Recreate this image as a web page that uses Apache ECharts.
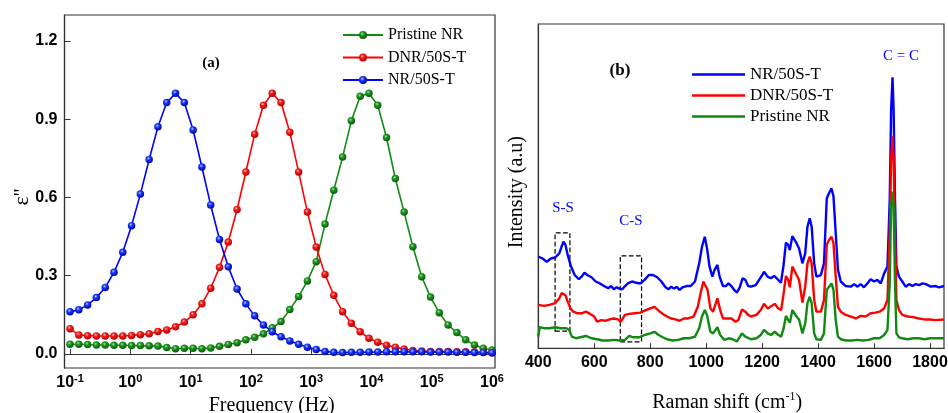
<!DOCTYPE html>
<html>
<head>
<meta charset="utf-8">
<script src="https://cdn.jsdelivr.net/npm/echarts@6/dist/echarts.min.js"></script>
<style>
html, body { margin: 0; padding: 0; background: #fff; }
#main { width: 948px; height: 413px; }
</style>
</head>
<body>
<div id="main"></div>
<script>
// panel (a): dielectric loss vs frequency
var freqs = [0.1, 0.1399, 0.1957, 0.2738, 0.3831, 0.536, 0.7499, 1.049, 1.468, 2.054,
    2.873, 4.019, 5.623, 7.867, 11.01, 15.4, 21.54, 30.14, 42.17, 58.99,
    82.54, 115.5, 161.6, 226, 316.2, 442.4, 619, 866, 1212, 1695,
    2371, 3318, 4642, 6494, 9085, 12711, 17783, 24880, 34810, 48697,
    68129, 95316, 133352, 186568, 261016, 365174, 510897, 714770, 1000000];
var lossPristine = [0.037, 0.037, 0.036, 0.034, 0.034, 0.033, 0.033, 0.032, 0.032, 0.031,
    0.030, 0.025, 0.020, 0.022, 0.022, 0.020, 0.023, 0.029, 0.036, 0.043,
    0.054, 0.064, 0.077, 0.100, 0.124, 0.170, 0.220, 0.280, 0.354, 0.498,
    0.628, 0.755, 0.894, 0.988, 1.000, 0.954, 0.830, 0.673, 0.544, 0.411,
    0.296, 0.218, 0.158, 0.111, 0.082, 0.054, 0.034, 0.022, 0.015];
var lossDNR = [0.097, 0.073, 0.070, 0.069, 0.069, 0.069, 0.069, 0.071, 0.074, 0.077,
    0.086, 0.092, 0.104, 0.122, 0.150, 0.192, 0.252, 0.332, 0.429, 0.554,
    0.698, 0.843, 0.954, 1.000, 0.964, 0.850, 0.698, 0.544, 0.410, 0.305,
    0.225, 0.162, 0.118, 0.085, 0.060, 0.045, 0.033, 0.026, 0.019, 0.013,
    0.011, 0.009, 0.009, 0.009, 0.008, 0.008, 0.007, 0.006, 0.005];
var lossNR = [0.162, 0.169, 0.188, 0.216, 0.255, 0.313, 0.390, 0.492, 0.613, 0.746,
    0.871, 0.964, 1.000, 0.964, 0.859, 0.717, 0.571, 0.439, 0.334, 0.249,
    0.192, 0.146, 0.111, 0.085, 0.066, 0.050, 0.037, 0.026, 0.017, 0.009,
    0.006, 0.005, 0.006, 0.006, 0.007, 0.007, 0.008, 0.008, 0.008, 0.008,
    0.008, 0.007, 0.007, 0.007, 0.006, 0.006, 0.005, 0.005, 0.004];
var freqTicks = [0.1, 1, 10, 100, 1000, 10000, 100000, 1000000];
var lossTicks = [0, 0.3, 0.6, 0.9, 1.2];

// panel (b): Raman spectra, [shift, intensity a.u.]
var ramanNR = [[400,28.3],[415,27.7],[430,26.7],[445,27.7],[460,28.0],[475,29.3],[483,31.3],[490,32.9],[497,31.9],[505,28.8],
    [517,25.2],[530,22.6],[545,21.3],[555,22.1],[565,23.3],[575,22.6],[590,21.9],[605,20.6],[620,20.0],[635,19.2],
    [650,18.5],[660,19.2],[670,18.2],[680,18.8],[690,18.4],[700,18.2],[710,19.2],[720,20.0],[735,20.6],[750,20.2],
    [765,20.0],[780,21.1],[795,22.6],[810,22.6],[825,21.9],[840,20.6],[855,18.8],[865,18.2],[875,19.0],[885,18.4],
    [895,19.0],[905,18.0],[915,18.8],[930,19.2],[945,19.2],[960,20.6],[975,26.2],[985,31.3],[995,34.4],[1003,30.8],
    [1012,25.2],[1022,22.1],[1030,24.2],[1040,25.7],[1048,22.1],[1060,19.2],[1070,19.2],[1080,20.0],[1090,19.2],[1100,18.0],
    [1110,17.2],[1120,18.8],[1130,21.6],[1140,21.1],[1150,19.2],[1160,19.0],[1177,19.5],[1195,21.9],[1207,23.6],[1219,22.1],
    [1231,21.6],[1243,22.3],[1255,21.3],[1267,20.2],[1276,25.2],[1285,32.6],[1293,31.9],[1299,30.3],[1308,34.6],[1314,34.2],
    [1323,32.4],[1332,30.8],[1344,26.2],[1354,29.3],[1362,37.5],[1370,40.1],[1377,37.5],[1386,26.2],[1394,22.1],[1410,22.6],
    [1421,26.2],[1431,46.2],[1439,47.8],[1448,49.3],[1455,46.8],[1463,35.5],[1471,24.2],[1481,20.6],[1499,19.2],[1517,19.0],
    [1529,19.8],[1541,19.0],[1552,19.8],[1564,18.8],[1576,20.0],[1588,21.3],[1600,20.6],[1612,21.1],[1624,20.0],[1636,23.1],
    [1648,25.2],[1656,45.7],[1661,73.5],[1666,83.6],[1670,73.5],[1675,45.7],[1680,25.2],[1689,22.1],[1701,20.6],[1713,19.0],
    [1725,19.8],[1737,19.2],[1749,19.8],[1761,19.5],[1773,20.0],[1785,19.8],[1803,19.0],[1820,19.2],[1832,18.8],[1850,19.2]];
var ramanDNR = [[400,13.4],[420,13.1],[440,13.4],[460,13.9],[475,15.4],[483,17.0],[490,17.2],[497,16.4],[505,14.4],[515,12.3],
    [525,11.3],[540,10.8],[555,10.8],[570,11.3],[585,10.6],[600,9.8],[610,8.2],[625,8.7],[640,8.5],[655,8.9],
    [670,9.2],[685,8.9],[695,8.2],[710,10.3],[725,10.6],[745,10.8],[765,11.0],[780,11.6],[800,12.3],[815,12.8],
    [830,11.6],[845,10.6],[860,9.8],[875,9.2],[890,8.9],[905,8.5],[920,9.2],[935,9.2],[955,9.8],[970,12.8],
    [980,17.0],[990,20.6],[997,21.1],[1005,18.0],[1015,12.3],[1025,11.3],[1040,15.4],[1050,11.8],[1060,9.2],[1075,9.2],
    [1090,9.2],[1105,8.2],[1115,8.7],[1128,12.0],[1140,11.3],[1150,10.3],[1160,9.8],[1180,10.3],[1195,11.8],[1207,13.7],
    [1220,12.3],[1235,13.1],[1245,13.7],[1258,12.3],[1268,11.8],[1277,17.0],[1285,22.3],[1293,21.1],[1299,18.8],[1308,25.2],
    [1314,24.7],[1323,22.6],[1332,21.1],[1344,14.1],[1354,19.0],[1362,26.2],[1370,28.3],[1377,26.2],[1386,14.9],[1394,11.3],
    [1410,11.3],[1421,14.9],[1431,31.9],[1439,33.4],[1448,34.4],[1455,32.4],[1463,22.1],[1471,12.8],[1481,11.3],[1499,10.3],
    [1517,9.8],[1535,9.2],[1552,10.0],[1570,9.8],[1588,10.8],[1605,11.0],[1620,11.3],[1636,12.3],[1648,14.9],[1656,35.5],
    [1661,58.1],[1666,65.5],[1670,58.1],[1675,35.5],[1680,14.9],[1689,11.8],[1701,10.3],[1720,9.8],[1740,9.6],[1760,9.2],
    [1780,8.9],[1800,8.9],[1820,8.7],[1850,8.9]];
var ramanPristine = [[400,3.6],[405,6.5],[420,6.2],[440,6.2],[460,6.5],[480,6.2],[500,6.2],[510,5.7],[520,3.6],[535,3.1],
    [550,3.4],[570,3.8],[590,3.1],[610,2.8],[630,2.4],[650,2.4],[670,2.6],[690,2.4],[710,2.6],[725,3.8],
    [740,3.4],[760,3.4],[780,4.1],[800,4.6],[815,5.1],[830,4.1],[845,3.4],[860,2.8],[880,2.4],[900,2.6],
    [920,3.1],[940,3.1],[960,3.6],[975,6.2],[985,9.8],[995,11.8],[1003,10.3],[1015,5.1],[1025,4.6],[1040,6.5],
    [1050,4.1],[1065,2.6],[1080,3.1],[1095,2.8],[1110,2.1],[1128,4.6],[1140,3.6],[1160,2.8],[1180,3.1],[1195,4.1],
    [1207,5.7],[1220,4.6],[1232,4.1],[1245,5.1],[1258,4.1],[1268,3.6],[1277,6.2],[1285,10.0],[1293,8.7],[1299,7.9],
    [1308,11.8],[1314,11.3],[1323,9.8],[1332,8.9],[1344,4.6],[1354,7.7],[1362,13.9],[1370,15.9],[1377,13.9],[1386,4.6],
    [1394,2.8],[1410,2.6],[1421,4.6],[1431,18.0],[1439,19.0],[1448,20.0],[1455,18.0],[1463,8.7],[1471,3.6],[1481,2.8],
    [1500,2.4],[1520,2.4],[1540,2.6],[1560,2.4],[1580,2.6],[1600,3.1],[1620,3.1],[1636,4.1],[1648,5.7],[1656,20.0],
    [1661,43.7],[1666,48.3],[1670,43.7],[1675,20.0],[1680,4.6],[1689,3.4],[1700,3.1],[1720,2.8],[1740,3.1],[1760,3.1],
    [1780,2.8],[1800,3.1],[1820,3.1],[1850,3.1]];
var shiftTicks = [400, 600, 800, 1000, 1200, 1400, 1600, 1800];

var myChart = echarts.init(document.getElementById("main"));

function ball(base, dark) {
    return {
        type: 'radial', x: 0.4, y: 0.35, r: 0.65,
        colorStops: [
            { offset: 0, color: '#b8d0d0' },
            { offset: 0.35, color: base },
            { offset: 1, color: dark }
        ]
    };
}

function pairs(ys) {
    return freqs.map(function (f, i) { return [f, ys[i]]; });
}

var tickFont = { fontFamily: 'Liberation Sans', fontWeight: 'bold', fontSize: 16, color: '#000' };
var axisCol = '#333';

var option = {
    animation: false,
    grid: [
        { left: 64.5, top: 15, width: 430.5, height: 353, show: true, borderColor: axisCol, borderWidth: 1.2, outerBoundsMode: 'none' },
        { left: 538.3, top: 24, width: 405.7, height: 324.3, show: true, borderColor: axisCol, borderWidth: 1.2, outerBoundsMode: 'none' }
    ],
    legend: [
        {
            data: ['Pristine NR', 'DNR/50S-T', 'NR/50S-T'],
            orient: 'vertical', left: 337, top: 22,
            itemWidth: 40, itemHeight: 10, itemGap: 6.5,
            textStyle: { fontFamily: 'Liberation Serif', fontSize: 16, color: '#000' }
        },
        {
            data: ['NR/50S-T ', 'DNR/50S-T ', 'Pristine NR '],
            orient: 'vertical', left: 687, top: 61,
            icon: 'rect', itemWidth: 53, itemHeight: 2.5, itemGap: 4,
            textStyle: { fontFamily: 'Liberation Serif', fontSize: 17, color: '#000' }
        }
    ],
    xAxis: [
        {
            type: 'log', gridIndex: 0, logBase: 10, min: 0.081, max: 1.12e6,
            name: 'Frequency (Hz)', nameLocation: 'middle', nameGap: 28,
            nameTextStyle: { fontFamily: 'Liberation Serif', fontSize: 20, color: '#000', padding: [0, 16, 0, 0] },
            axisLine: { lineStyle: { color: axisCol, width: 1.2 } },
            axisTick: { inside: true, length: 5, customValues: freqTicks, lineStyle: { color: axisCol } },
            minorTick: { show: false },
            splitLine: { show: false },
            axisLabel: {
                customValues: freqTicks, margin: 5,
                formatter: function (v) {
                    return '{b|10}{s|' + Math.round(Math.log10(v)) + '}';
                },
                rich: {
                    b: tickFont,
                    s: { fontFamily: 'Liberation Sans', fontWeight: 'bold', fontSize: 11, color: '#000', padding: [0, 0, 9, 0] }
                }
            }
        },
        {
            type: 'value', gridIndex: 1, min: 400, max: 1850,
            name: '{n|Raman shift (cm}{s|-1}{n|)}', nameLocation: 'middle', nameGap: 43,
            nameTextStyle: {
                padding: [0, 28, 0, 0],
                rich: {
                    n: { fontFamily: 'Liberation Serif', fontSize: 20, color: '#000' },
                    s: { fontFamily: 'Liberation Serif', fontSize: 12, color: '#000', padding: [0, 0, 10, 0] }
                }
            },
            axisLine: { lineStyle: { color: axisCol, width: 1.2 } },
            axisTick: { inside: true, length: 5, customValues: shiftTicks, lineStyle: { color: axisCol } },
            splitLine: { show: false },
            axisLabel: Object.assign({
                customValues: shiftTicks, margin: 6,
                formatter: function (v) { return String(v); }
            }, tickFont)
        }
    ],
    yAxis: [
        {
            type: 'value', gridIndex: 0, min: -0.054, max: 1.3,
            name: "ε''", nameLocation: 'middle', nameGap: 31, nameRotate: 90, nameMoveOverlap: false,
            nameTextStyle: { fontFamily: 'Liberation Serif', fontSize: 22, color: '#000', padding: [0, 11, 0, 0] },
            axisLine: { show: true, lineStyle: { color: axisCol, width: 1.2 } },
            axisTick: { inside: true, length: 6, customValues: lossTicks, lineStyle: { color: axisCol } },
            splitLine: { show: false },
            axisLabel: Object.assign({
                customValues: lossTicks, margin: 7,
                formatter: function (v) { return v.toFixed(1); }
            }, tickFont)
        },
        {
            type: 'value', gridIndex: 1, min: 0, max: 100,
            name: 'Intensity (a.u)', nameLocation: 'middle', nameGap: 12, nameRotate: 90,
            nameTextStyle: { fontFamily: 'Liberation Serif', fontSize: 20, color: '#000', padding: [0, 12, 0, 0] },
            axisLine: { show: true, lineStyle: { color: axisCol, width: 1.2 } },
            axisTick: { show: false },
            axisLabel: { show: false },
            splitLine: { show: false }
        }
    ],
    series: [
        {
            name: 'Pristine NR', type: 'line', xAxisIndex: 0, yAxisIndex: 0,
            data: pairs(lossPristine), symbol: 'circle', symbolSize: 7.5,
            lineStyle: { color: '#128a12', width: 1.6 },
            itemStyle: { color: ball('#1a9a1a', '#0a5a0a') }
        },
        {
            name: 'DNR/50S-T', type: 'line', xAxisIndex: 0, yAxisIndex: 0,
            data: pairs(lossDNR), symbol: 'circle', symbolSize: 7.5,
            lineStyle: { color: '#ff0000', width: 1.6 },
            itemStyle: { color: ball('#ff1a1a', '#b00000') }
        },
        {
            name: 'NR/50S-T', type: 'line', xAxisIndex: 0, yAxisIndex: 0,
            data: pairs(lossNR), symbol: 'circle', symbolSize: 7.5,
            lineStyle: { color: '#0000ff', width: 1.6 },
            itemStyle: { color: ball('#1a3cff', '#0000a8') }
        },
        {
            name: 'NR/50S-T ', type: 'line', xAxisIndex: 1, yAxisIndex: 1,
            data: ramanNR, symbol: 'none',
            lineStyle: { color: '#0000ff', width: 2.4 },
            itemStyle: { color: '#0000ff' },
            markArea: {
                silent: true,
                itemStyle: { color: 'rgba(0,0,0,0)', borderColor: '#000', borderWidth: 1.2, borderType: 'dashed' },
                data: [
                    [{ xAxis: 460, yAxis: 5.3 }, { xAxis: 513, yAxis: 35.6 }],
                    [{ xAxis: 693, yAxis: 2.0 }, { xAxis: 769, yAxis: 28.5 }]
                ]
            }
        },
        {
            name: 'DNR/50S-T ', type: 'line', xAxisIndex: 1, yAxisIndex: 1,
            data: ramanDNR, symbol: 'none',
            lineStyle: { color: '#ff0000', width: 2.4 },
            itemStyle: { color: '#ff0000' }
        },
        {
            name: 'Pristine NR ', type: 'line', xAxisIndex: 1, yAxisIndex: 1,
            data: ramanPristine, symbol: 'none',
            lineStyle: { color: '#108a10', width: 2.4 },
            itemStyle: { color: '#108a10' }
        }
    ],
    graphic: [
        { type: 'text', x: 211, y: 63, style: { text: '(a)', font: 'bold 15px "Liberation Serif"', fill: '#000', align: 'center', verticalAlign: 'middle' } },
        { type: 'text', x: 620, y: 71, style: { text: '(b)', font: 'bold 17px "Liberation Serif"', fill: '#000', align: 'center', verticalAlign: 'middle' } },
        { type: 'text', x: 563, y: 208, style: { text: 'S-S', font: '15px "Liberation Serif"', fill: '#0000ff', align: 'center', verticalAlign: 'middle' } },
        { type: 'text', x: 631, y: 221, style: { text: 'C-S', font: '15px "Liberation Serif"', fill: '#0000ff', align: 'center', verticalAlign: 'middle' } },
        { type: 'text', x: 901, y: 56, style: { text: 'C = C', font: '15px "Liberation Serif"', fill: '#0000ff', align: 'center', verticalAlign: 'middle' } }
    ]
};
myChart.setOption(option);
</script>
</body>
</html>
